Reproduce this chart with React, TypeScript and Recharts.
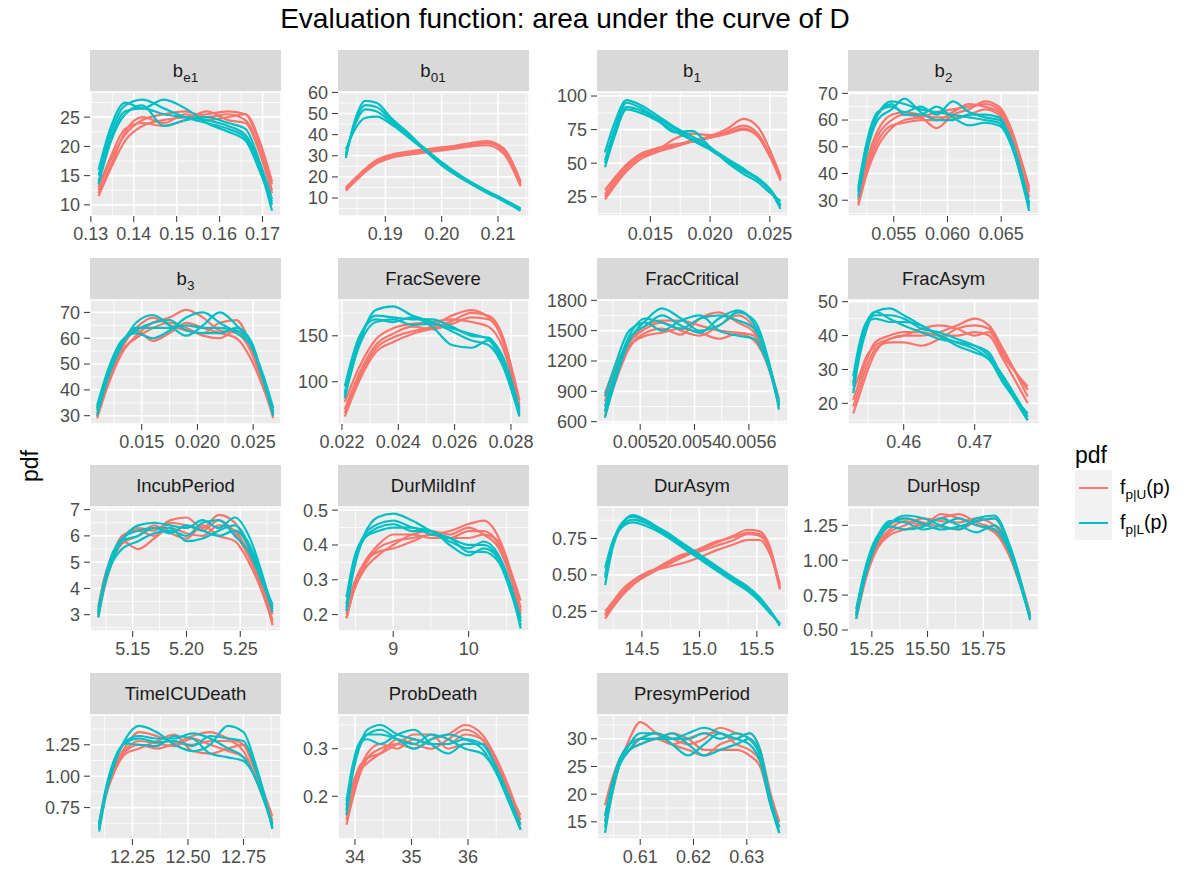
import React from "react";
import { LineChart, Line, XAxis, YAxis, CartesianGrid } from "recharts";

const FONT = "'Liberation Sans', Arial, Helvetica, sans-serif";
const RED = "#F8766D";
const TEAL = "#00BFC4";

// b_e1
const be1X = [0.1318, 0.1345, 0.138, 0.142, 0.147, 0.152, 0.157, 0.162, 0.166, 0.1695, 0.1722];
const be1U = [
  [11.5, 16, 21, 23.5, 24.5, 25, 25.5, 26, 25.5, 20, 13.5],
  [12.5, 17.5, 22, 24.5, 25.5, 26, 25, 25.5, 24.5, 19, 12.5],
  [13, 18, 23, 24, 23.5, 24.5, 26, 24.5, 24, 18.5, 12],
  [12, 16.5, 22.5, 25, 24, 25.5, 24.5, 25, 25.5, 20.5, 14],
];
const be1L = [
  [15, 22, 27, 28, 26.5, 25, 24, 23, 21.5, 16, 9],
  [14, 21, 26, 26.5, 25.5, 25, 24.5, 23.5, 22, 16.5, 10],
  [16, 23, 27.5, 26.5, 28, 26.5, 24, 22.5, 21, 15.5, 10.5],
  [13.5, 20.5, 25.5, 27, 23.5, 24.5, 25, 24, 23, 17, 11],
];
const be1XT = ["0.13", "0.14", "0.15", "0.16", "0.17"];
const be1YT = ["10", "15", "20", "25"];

// b_01
const b01X = [0.183, 0.1845, 0.1865, 0.1885, 0.191, 0.194, 0.197, 0.2, 0.204, 0.208, 0.211, 0.214];
const b01U = [
  [14, 18, 23, 27, 29.5, 31, 32, 33, 34.5, 36, 33, 17],
  [15, 19, 24, 28, 30.5, 32, 33, 34, 35, 36.5, 32, 16],
  [13.5, 17.5, 22.5, 26.5, 29, 30.5, 31.5, 32.5, 34, 35, 31, 15.5],
  [14.5, 18.5, 23.5, 27.5, 30, 31.5, 32.5, 33.5, 35.5, 37, 33.5, 18],
];
const b01L = [
  [29, 46, 56, 55, 48, 41, 33, 26, 19, 13, 9, 4.5],
  [31, 44, 52, 51, 46, 40, 33.5, 27, 19.5, 13.5, 9.5, 5],
  [33, 42, 48, 48.5, 45, 39, 32.5, 25.5, 18.5, 12.5, 8.5, 4],
  [30, 45, 54, 53, 47, 40.5, 33, 26.5, 19, 13, 9, 5],
];
const b01XT = ["0.19", "0.20", "0.21"];
const b01YT = ["10", "20", "30", "40", "50", "60"];

// b_1
const b1X = [0.0112, 0.012, 0.013, 0.014, 0.0155, 0.017, 0.0185, 0.02, 0.0215, 0.0228, 0.024, 0.025, 0.0259];
const b1U = [
  [23, 33, 44, 52, 58, 62, 66, 69, 74, 78, 72, 56, 37],
  [27, 37, 48, 55, 60, 63, 67, 70, 76, 83, 77, 60, 40],
  [25, 35, 46, 54, 59, 68, 72, 71, 73, 76, 70, 55, 38],
  [30, 39, 49, 56, 61, 64, 66, 69, 72, 75, 70, 56, 39],
];
const b1L = [
  [47, 70, 90, 88, 82, 74, 67, 60, 51, 44, 38, 30, 16],
  [52, 75, 95, 92, 84, 76, 68, 61, 52, 45, 39, 31, 19],
  [58, 80, 97, 94, 86, 77, 70, 62, 50, 42, 36, 28, 22],
  [50, 72, 92, 90, 83, 73, 74, 62, 53, 46, 38, 30, 18],
];
const b1XT = ["0.015", "0.020", "0.025"];
const b1YT = ["25", "50", "75", "100"];

// b_2
const b2X = [0.0517, 0.0525, 0.0535, 0.0548, 0.056, 0.0575, 0.059, 0.0605, 0.062, 0.0635, 0.0648, 0.066, 0.0676];
const b2U = [
  [28, 40, 50, 57, 60, 61, 63, 64, 65, 66, 64, 55, 35],
  [30, 43, 54, 60, 62, 61, 57, 62, 64, 67, 65, 56, 33],
  [32, 45, 56, 62, 63, 62, 61, 61, 62, 64, 62, 53, 31],
  [29, 41, 52, 58, 59, 60, 60, 63, 66, 65, 63, 54, 34],
];
const b2L = [
  [33, 50, 62, 67, 66, 64, 63, 62, 61, 60, 59, 50, 27],
  [35, 52, 63, 65, 63, 65, 62, 67, 63, 61, 60, 52, 29],
  [31, 48, 60, 64, 68, 63, 60, 60, 62, 62, 61, 51, 28],
  [34, 51, 62, 66, 62, 62, 65, 61, 58, 59, 58, 50, 26],
];
const b2XT = ["0.055", "0.060", "0.065"];
const b2YT = ["30", "40", "50", "60", "70"];

// b_3
const b3X = [0.011, 0.012, 0.0132, 0.0145, 0.016, 0.0175, 0.019, 0.0205, 0.022, 0.0235, 0.0248, 0.0258, 0.0268];
const b3U = [
  [29, 42, 54, 61, 66, 68, 71, 68, 63, 62, 55, 44, 29],
  [31, 44, 56, 63, 59, 62, 66, 64, 62, 60, 52, 42, 30],
  [33, 46, 57, 64, 68, 65, 63, 62, 66, 67, 57, 45, 31],
  [30, 43, 55, 60, 64, 66, 64, 61, 60, 63, 55, 43, 30],
];
const b3L = [
  [30, 45, 57, 66, 69, 65, 61, 65, 70, 65, 58, 46, 32],
  [32, 47, 58, 64, 64, 64, 65, 64, 64, 63, 58, 45, 31],
  [34, 48, 59, 62, 60, 63, 68, 70, 66, 62, 57, 47, 33],
  [33, 46, 58, 63, 66, 67, 63, 62, 62, 64, 59, 46, 30],
];
const b3XT = ["0.015", "0.020", "0.025"];
const b3YT = ["30", "40", "50", "60", "70"];

// FracSevere
const sevX = [0.0221, 0.0226, 0.0232, 0.0238, 0.0245, 0.0252, 0.0259, 0.0266, 0.0272, 0.0277, 0.0283];
const sevU = [
  [62, 100, 132, 143, 152, 158, 166, 175, 172, 150, 75],
  [70, 108, 140, 152, 160, 157, 163, 170, 168, 145, 68],
  [78, 115, 146, 158, 163, 165, 168, 165, 160, 138, 72],
  [66, 104, 136, 148, 155, 160, 172, 178, 170, 148, 80],
];
const sevL = [
  [82, 140, 178, 182, 172, 165, 155, 145, 140, 118, 62],
  [88, 145, 172, 170, 168, 168, 160, 150, 148, 125, 66],
  [95, 148, 168, 165, 170, 160, 140, 137, 145, 128, 70],
  [85, 138, 165, 168, 162, 163, 158, 152, 146, 120, 64],
];
const sevXT = ["0.022", "0.024", "0.026", "0.028"];
const sevYT = ["100", "150"];

// FracCritical
const critX = [0.00507, 0.00511, 0.00516, 0.00522, 0.00528, 0.00535, 0.00542, 0.00549, 0.00556, 0.00562, 0.00567, 0.005711];
const critU = [
  [700, 1050, 1350, 1450, 1480, 1520, 1480, 1420, 1470, 1400, 1150, 780],
  [800, 1120, 1380, 1520, 1580, 1500, 1450, 1550, 1650, 1520, 1200, 820],
  [880, 1150, 1400, 1550, 1600, 1600, 1550, 1500, 1480, 1450, 1180, 750],
  [650, 1000, 1330, 1480, 1520, 1460, 1620, 1680, 1580, 1480, 1170, 800],
];
const critL = [
  [640, 1020, 1400, 1600, 1720, 1620, 1500, 1550, 1680, 1600, 1230, 720],
  [750, 1100, 1450, 1620, 1580, 1520, 1620, 1650, 1600, 1520, 1200, 800],
  [850, 1180, 1500, 1580, 1500, 1600, 1650, 1500, 1450, 1420, 1160, 760],
  [700, 1080, 1420, 1550, 1650, 1550, 1480, 1620, 1700, 1560, 1210, 780],
];
const critXT = ["0.0052", "0.0054", "0.0056"];
const critYT = ["600", "900", "1200", "1500", "1800"];

// FracAsym
const asymX = [0.4529, 0.4537, 0.4548, 0.456, 0.458, 0.46, 0.4625, 0.465, 0.4675, 0.47, 0.472, 0.474, 0.47746];
const asymU = [
  [17, 22, 29, 35, 39, 40, 40, 41, 43, 45, 43, 36, 22],
  [19, 24, 31, 36, 38, 38, 37, 39, 42, 43, 42, 35, 24],
  [21, 26, 33, 38, 40, 41, 41, 40, 40, 41, 40, 33, 20],
  [24, 28, 34, 37, 39, 40, 42, 43, 42, 40, 41, 34, 25],
];
const asymL = [
  [23, 33, 42, 47, 48, 46, 43, 40, 38, 36, 33, 27, 15],
  [25, 35, 43, 46, 46, 45, 42, 41, 39, 37, 34, 28, 16],
  [28, 37, 44, 45, 44, 44, 43, 40, 37, 35, 33, 26, 17],
  [26, 36, 44, 47, 45, 43, 41, 39, 38, 37, 35, 27, 15],
];
const asymXT = ["0.46", "0.47"];
const asymYT = ["20", "30", "40", "50"];

// IncubPeriod
const incX = [5.118, 5.123, 5.13, 5.14, 5.155, 5.17, 5.185, 5.2, 5.215, 5.23, 5.245, 5.258, 5.27, 5.28];
const incU = [
  [3.0, 4.0, 5.0, 5.9, 6.3, 6.2, 6.6, 6.7, 6.3, 6.8, 6.5, 5.5, 4.2, 2.6],
  [3.3, 4.3, 5.2, 5.8, 5.5, 5.9, 6.3, 6.1, 6.0, 6.4, 6.2, 5.3, 4.0, 2.8],
  [2.9, 3.9, 4.9, 5.7, 6.0, 6.4, 6.1, 5.9, 6.4, 6.0, 5.8, 5.0, 3.9, 2.7],
  [3.1, 4.1, 5.1, 6.0, 6.2, 6.0, 6.5, 6.4, 6.2, 6.6, 6.1, 5.2, 4.1, 3.0],
];
const incL = [
  [2.9, 4.0, 5.0, 5.8, 6.4, 6.5, 6.4, 6.3, 6.6, 6.3, 6.7, 6.0, 4.6, 3.1],
  [3.2, 4.2, 5.2, 5.9, 6.2, 6.3, 6.1, 6.4, 6.2, 6.0, 6.2, 5.6, 4.3, 3.4],
  [3.0, 4.0, 4.9, 5.5, 5.8, 6.1, 6.2, 6.0, 6.5, 6.6, 6.0, 5.4, 4.3, 3.2],
  [3.1, 4.1, 5.1, 5.8, 6.0, 6.3, 6.3, 5.8, 5.9, 6.2, 6.4, 5.7, 4.5, 3.3],
];
const incXT = ["5.15", "5.20", "5.25"];
const incYT = ["3", "4", "5", "6", "7"];

// DurMildInf
const mildX = [8.38, 8.48, 8.62, 8.8, 9.0, 9.25, 9.5, 9.75, 10.0, 10.2, 10.4, 10.55, 10.69];
const mildU = [
  [0.19, 0.27, 0.34, 0.39, 0.41, 0.42, 0.43, 0.44, 0.46, 0.47, 0.42, 0.33, 0.21],
  [0.2, 0.28, 0.35, 0.4, 0.43, 0.43, 0.42, 0.42, 0.44, 0.44, 0.4, 0.32, 0.22],
  [0.21, 0.29, 0.35, 0.38, 0.39, 0.41, 0.43, 0.42, 0.42, 0.43, 0.41, 0.33, 0.24],
  [0.19, 0.27, 0.33, 0.37, 0.4, 0.43, 0.44, 0.43, 0.45, 0.43, 0.39, 0.31, 0.2],
];
const mildL = [
  [0.21, 0.33, 0.43, 0.48, 0.49, 0.47, 0.44, 0.42, 0.4, 0.4, 0.36, 0.28, 0.16],
  [0.23, 0.35, 0.43, 0.46, 0.47, 0.45, 0.44, 0.41, 0.39, 0.41, 0.37, 0.29, 0.18],
  [0.25, 0.36, 0.42, 0.44, 0.45, 0.45, 0.43, 0.42, 0.38, 0.38, 0.35, 0.27, 0.17],
  [0.22, 0.34, 0.42, 0.45, 0.46, 0.44, 0.44, 0.4, 0.37, 0.39, 0.36, 0.28, 0.19],
];
const mildXT = ["9", "10"];
const mildYT = ["0.2", "0.3", "0.4", "0.5"];

// DurAsym
const dasX = [14.18, 14.25, 14.33, 14.42, 14.55, 14.7, 14.85, 15.0, 15.15, 15.3, 15.42, 15.52, 15.61, 15.7];
const dasU = [
  [0.2, 0.28, 0.36, 0.43, 0.5, 0.56, 0.62, 0.67, 0.72, 0.77, 0.81, 0.8, 0.7, 0.42],
  [0.23, 0.3, 0.38, 0.45, 0.51, 0.58, 0.64, 0.66, 0.7, 0.74, 0.78, 0.77, 0.67, 0.4],
  [0.25, 0.32, 0.4, 0.46, 0.52, 0.55, 0.58, 0.62, 0.67, 0.71, 0.74, 0.74, 0.65, 0.44],
  [0.22, 0.29, 0.37, 0.44, 0.5, 0.57, 0.63, 0.68, 0.73, 0.76, 0.79, 0.78, 0.68, 0.41],
];
const dasL = [
  [0.43, 0.7, 0.85, 0.91, 0.87, 0.79, 0.71, 0.63, 0.55, 0.47, 0.41, 0.34, 0.26, 0.15],
  [0.48, 0.72, 0.84, 0.88, 0.85, 0.78, 0.7, 0.62, 0.54, 0.46, 0.4, 0.33, 0.25, 0.16],
  [0.55, 0.74, 0.83, 0.86, 0.83, 0.77, 0.69, 0.61, 0.53, 0.45, 0.39, 0.32, 0.24, 0.17],
  [0.5, 0.73, 0.86, 0.9, 0.86, 0.8, 0.72, 0.64, 0.56, 0.48, 0.42, 0.35, 0.26, 0.16],
];
const dasXT = ["14.5", "15.0", "15.5"];
const dasYT = ["0.25", "0.50", "0.75"];

// DurHosp
const hospX = [15.18, 15.22, 15.27, 15.33, 15.4, 15.48, 15.56, 15.64, 15.72, 15.8, 15.87, 15.92, 15.96];
const hospU = [
  [0.58, 0.85, 1.08, 1.2, 1.25, 1.3, 1.28, 1.27, 1.3, 1.25, 1.05, 0.82, 0.58],
  [0.62, 0.88, 1.1, 1.22, 1.28, 1.25, 1.33, 1.3, 1.25, 1.2, 1.02, 0.8, 0.6],
  [0.65, 0.9, 1.12, 1.25, 1.3, 1.27, 1.24, 1.22, 1.28, 1.3, 1.08, 0.84, 0.62],
  [0.6, 0.86, 1.07, 1.18, 1.22, 1.26, 1.3, 1.33, 1.27, 1.22, 1.03, 0.81, 0.59],
];
const hospL = [
  [0.58, 0.88, 1.12, 1.26, 1.32, 1.3, 1.25, 1.22, 1.3, 1.32, 1.1, 0.84, 0.57],
  [0.62, 0.92, 1.15, 1.28, 1.27, 1.22, 1.25, 1.3, 1.25, 1.22, 1.05, 0.8, 0.58],
  [0.65, 0.94, 1.16, 1.24, 1.22, 1.24, 1.3, 1.25, 1.2, 1.25, 1.07, 0.83, 0.6],
  [0.6, 0.9, 1.13, 1.27, 1.3, 1.26, 1.22, 1.24, 1.28, 1.3, 1.09, 0.82, 0.59],
];
const hospXT = ["15.25", "15.50", "15.75"];
const hospYT = ["0.50", "0.75", "1.00", "1.25"];

// TimeICUDeath
const icuX = [12.1, 12.13, 12.17, 12.22, 12.28, 12.36, 12.44, 12.52, 12.6, 12.68, 12.75, 12.8, 12.84, 12.88];
const icuU = [
  [0.6, 0.85, 1.05, 1.2, 1.25, 1.22, 1.26, 1.32, 1.35, 1.3, 1.25, 1.05, 0.85, 0.62],
  [0.63, 0.88, 1.08, 1.24, 1.35, 1.32, 1.27, 1.25, 1.28, 1.28, 1.2, 1.0, 0.82, 0.65],
  [0.58, 0.84, 1.04, 1.18, 1.22, 1.28, 1.33, 1.2, 1.18, 1.22, 1.25, 1.08, 0.88, 0.68],
  [0.61, 0.86, 1.06, 1.21, 1.28, 1.26, 1.24, 1.3, 1.25, 1.2, 1.15, 1.0, 0.83, 0.63],
];
const icuL = [
  [0.56, 0.85, 1.1, 1.3, 1.4, 1.35, 1.25, 1.2, 1.25, 1.4, 1.35, 1.12, 0.88, 0.58],
  [0.6, 0.88, 1.12, 1.28, 1.32, 1.3, 1.3, 1.34, 1.3, 1.22, 1.15, 1.0, 0.82, 0.6],
  [0.62, 0.9, 1.14, 1.26, 1.25, 1.24, 1.32, 1.3, 1.18, 1.15, 1.12, 1.0, 0.83, 0.62],
  [0.58, 0.87, 1.11, 1.27, 1.3, 1.27, 1.28, 1.24, 1.32, 1.3, 1.28, 1.08, 0.86, 0.59],
];
const icuXT = ["12.25", "12.50", "12.75"];
const icuYT = ["0.75", "1.00", "1.25"];

// ProbDeath
const pdX = [33.85, 33.95, 34.07, 34.22, 34.45, 34.75, 35.05, 35.35, 35.65, 35.95, 36.25, 36.5, 36.72, 36.93];
const pdU = [
  [0.14, 0.19, 0.24, 0.28, 0.3, 0.31, 0.3, 0.32, 0.33, 0.35, 0.33, 0.28, 0.22, 0.15],
  [0.15, 0.2, 0.25, 0.29, 0.31, 0.3, 0.32, 0.31, 0.31, 0.33, 0.32, 0.27, 0.21, 0.16],
  [0.17, 0.22, 0.26, 0.28, 0.29, 0.31, 0.33, 0.33, 0.3, 0.31, 0.31, 0.26, 0.2, 0.15],
  [0.16, 0.21, 0.25, 0.27, 0.29, 0.32, 0.31, 0.3, 0.32, 0.34, 0.32, 0.27, 0.21, 0.14],
];
const pdL = [
  [0.16, 0.24, 0.3, 0.34, 0.35, 0.33, 0.32, 0.31, 0.31, 0.32, 0.31, 0.26, 0.2, 0.13],
  [0.18, 0.25, 0.31, 0.33, 0.33, 0.32, 0.31, 0.33, 0.32, 0.3, 0.29, 0.25, 0.19, 0.13],
  [0.19, 0.26, 0.31, 0.32, 0.31, 0.33, 0.34, 0.31, 0.29, 0.31, 0.31, 0.26, 0.2, 0.14],
  [0.17, 0.25, 0.3, 0.33, 0.34, 0.32, 0.3, 0.32, 0.33, 0.32, 0.3, 0.25, 0.19, 0.13],
];
const pdXT = ["34", "35", "36"];
const pdYT = ["0.2", "0.3"];

// PresymPeriod
const preX = [0.6034, 0.6045, 0.606, 0.608, 0.61, 0.613, 0.616, 0.619, 0.622, 0.625, 0.628, 0.6305, 0.6325, 0.6345, 0.6361];
const preU = [
  [14, 19, 25, 30, 33, 31, 29, 28, 27, 29, 30, 31, 28, 20, 15],
  [16, 21, 26, 29, 30, 30, 29, 30, 31, 31, 29, 28, 26, 19, 14],
  [18, 22, 26, 28, 29, 30, 31, 30, 28, 28, 28, 27, 25, 18, 14],
  [15, 20, 25, 28, 30, 31, 30, 29, 30, 32, 31, 30, 27, 19, 15],
];
const preL = [
  [13, 19, 25, 29, 31, 31, 29, 27, 29, 31, 30, 31, 28, 19, 13],
  [15, 20, 25, 28, 30, 30, 31, 29, 27, 28, 29, 30, 27, 18, 13],
  [16, 21, 26, 29, 30, 31, 30, 31, 32, 31, 30, 29, 26, 18, 14],
  [14, 20, 25, 28, 29, 30, 30, 30, 31, 30, 31, 30, 27, 19, 14],
];
const preXT = ["0.61", "0.62", "0.63"];
const preYT = ["15", "20", "25", "30"];

// layout
const COL_X = [90, 337.5, 596.5, 848];
const ROW_Y = [50, 257.5, 465, 673];
const PW = 191;
const SH = 42;
const PH = 124;
const YW = 70;
const XH = 36;
const PAD_T = 14;
const PAD_R = 30;

const Sub = ({ children }: { children: React.ReactNode }) => (
  <span style={{ fontSize: 13.5, position: "relative", top: 5 }}>{children}</span>
);

type PanelDef = {
  name: React.ReactNode;
  x: number[];
  u: number[][];
  l: number[][];
  xd: [number, number];
  yd: [number, number];
  xt: string[];
  yt: string[];
};

const panels: PanelDef[] = [
  { name: <>b<Sub>e1</Sub></>, x: be1X, u: be1U, l: be1L, xd: [0.1298, 0.1743], yd: [8.1, 29.3], xt: be1XT, yt: be1YT },
  { name: <>b<Sub>01</Sub></>, x: b01X, u: b01U, l: b01L, xd: [0.1816, 0.2155], yd: [1.5, 60.2], xt: b01XT, yt: b01YT },
  { name: <>b<Sub>1</Sub></>, x: b1X, u: b1U, l: b1L, xd: [0.01053, 0.02652], yd: [10.7, 103], xt: b1XT, yt: b1YT },
  { name: <>b<Sub>2</Sub></>, x: b2X, u: b2U, l: b2L, xd: [0.05074, 0.06852], yd: [24.1, 70.5], xt: b2XT, yt: b2YT },
  { name: <>b<Sub>3</Sub></>, x: b3X, u: b3U, l: b3L, xd: [0.01036, 0.0275], yd: [26.8, 74.8], xt: b3XT, yt: b3YT },
  { name: "FracSevere", x: sevX, u: sevU, l: sevL, xd: [0.02186, 0.02864], yd: [54, 189], xt: sevXT, yt: sevYT },
  { name: "FracCritical", x: critX, u: critU, l: critL, xd: [0.005041, 0.005744], yd: [577, 1803], xt: critXT, yt: critYT },
  { name: "FracAsym", x: asymX, u: asymU, l: asymL, xd: [0.45216, 0.47905], yd: [13.9, 50.5], xt: asymXT, yt: asymYT },
  { name: "IncubPeriod", x: incX, u: incU, l: incL, xd: [5.1103, 5.2879], yd: [2.38, 7.1], xt: incXT, yt: incYT },
  { name: "DurMildInf", x: mildX, u: mildU, l: mildL, xd: [8.268, 10.8], yd: [0.153, 0.509], xt: mildXT, yt: mildYT },
  { name: "DurAsym", x: dasX, u: dasU, l: dasL, xd: [14.109, 15.771], yd: [0.115, 0.966], xt: dasXT, yt: dasYT },
  { name: "DurHosp", x: hospX, u: hospU, l: hospL, xd: [15.143, 16.0], yd: [0.493, 1.381], xt: hospXT, yt: hospYT },
  { name: "TimeICUDeath", x: icuX, u: icuU, l: icuL, xd: [12.059, 12.919], yd: [0.5, 1.487], xt: icuXT, yt: icuYT },
  { name: "ProbDeath", x: pdX, u: pdU, l: pdL, xd: [33.7, 37.08], yd: [0.11, 0.371], xt: pdXT, yt: pdYT },
  { name: "PresymPeriod", x: preX, u: preU, l: preL, xd: [0.60189, 0.63774], yd: [11.9, 34.3], xt: preXT, yt: preYT },
];

// minor breaks halfway between major ones, kept inside the panel limits
function minors(ticks: number[], d: [number, number]) {
  const step = ticks.length > 1 ? ticks[1] - ticks[0] : 0;
  const out: number[] = [];
  for (let i = -1; i < ticks.length; i++) {
    const m = ticks[0] + step * (i + 0.5);
    if (m > d[0] && m < d[1]) out.push(m);
  }
  return out;
}

const tickStyle = { fill: "#4D4D4D", fontSize: 18, fontFamily: FONT };

function Panel({ p, idx }: { p: PanelDef; idx: number }) {
  const left = COL_X[idx % 4];
  const top = ROW_Y[Math.floor(idx / 4)];
  const rows = p.x.map((xv, i) => {
    const r: Record<string, number> = { x: xv };
    p.u.forEach((c, k) => (r["u" + k] = c[i]));
    p.l.forEach((c, k) => (r["l" + k] = c[i]));
    return r;
  });
  const xt = p.xt.map(Number);
  const yt = p.yt.map(Number);
  return (
    <>
      <div
        style={{
          position: "absolute", left, top, width: PW, height: SH, background: "#D9D9D9",
          display: "flex", alignItems: "center", justifyContent: "center",
          fontSize: 18.5, color: "#1A1A1A", fontFamily: FONT,
        }}
      >
        <span>{p.name}</span>
      </div>
      <div style={{ position: "absolute", left: left - YW, top: top + SH - PAD_T }}>
        <LineChart
          width={YW + PW + PAD_R}
          height={PH + XH + PAD_T}
          data={rows}
          margin={{ top: PAD_T, right: PAD_R, bottom: 0, left: 0 }}
        >
          <CartesianGrid
            fill="#EBEBEB"
            stroke="#FFFFFF"
            strokeWidth={0.8}
            horizontalValues={minors(yt, p.yd)}
            verticalValues={minors(xt, p.xd)}
          />
          <CartesianGrid stroke="#FFFFFF" strokeWidth={1.6} />
          <XAxis
            type="number"
            dataKey="x"
            domain={p.xd}
            ticks={xt}
            interval={0}
            allowDataOverflow
            height={XH}
            axisLine={false}
            tickLine={{ stroke: "#333333" }}
            tickSize={6}
            tickMargin={5}
            tick={tickStyle}
            tickFormatter={(v: number) => p.xt[xt.indexOf(v)] ?? String(v)}
          />
          <YAxis
            type="number"
            domain={p.yd}
            ticks={yt}
            interval={0}
            allowDataOverflow
            width={YW}
            axisLine={false}
            tickLine={{ stroke: "#333333" }}
            tickSize={6}
            tickMargin={4}
            tick={tickStyle}
            tickFormatter={(v: number) => p.yt[yt.indexOf(v)] ?? String(v)}
          />
          {p.u.map((_, k) => (
            <Line key={"u" + k} dataKey={"u" + k} type="monotone" stroke={RED} strokeWidth={2.2} dot={false} activeDot={false} isAnimationActive={false} />
          ))}
          {p.l.map((_, k) => (
            <Line key={"l" + k} dataKey={"l" + k} type="monotone" stroke={TEAL} strokeWidth={2.2} dot={false} activeDot={false} isAnimationActive={false} />
          ))}
        </LineChart>
      </div>
    </>
  );
}

function LegendLabel({ sub }: { sub: string }) {
  return (
    <span>
      f<span style={{ fontSize: 13.5, position: "relative", top: 5 }}>{sub}</span>(p)
    </span>
  );
}

export default function App() {
  return (
    <div style={{ position: "absolute", left: 0, top: 0, width: 1194, height: 869, background: "#FFFFFF", fontFamily: FONT, overflow: "hidden" }}>
      <div style={{ position: "absolute", left: 0, top: 5, width: 1130, textAlign: "center", fontSize: 28, lineHeight: "28px", color: "#000" }}>
        Evaluation function: area under the curve of D
      </div>
      <div
        style={{
          position: "absolute", left: 30, top: 466, transform: "translate(-50%, -50%) rotate(-90deg)",
          fontSize: 23, color: "#000", whiteSpace: "nowrap",
        }}
      >
        pdf
      </div>
      {panels.map((p, i) => (
        <Panel key={i} p={p} idx={i} />
      ))}
      {/* legend */}
      <div style={{ position: "absolute", left: 1075, top: 441, fontSize: 23, lineHeight: "28px", color: "#000" }}>pdf</div>
      <div style={{ position: "absolute", left: 1075, top: 470, width: 37, height: 70, background: "#F2F2F2" }} />
      <div style={{ position: "absolute", left: 1079, top: 487, width: 29, height: 2, background: RED }} />
      <div style={{ position: "absolute", left: 1079, top: 522, width: 29, height: 2, background: TEAL }} />
      <div style={{ position: "absolute", left: 1120, top: 475, fontSize: 19.5, lineHeight: "24px", color: "#000" }}>
        <LegendLabel sub="p|U" />
      </div>
      <div style={{ position: "absolute", left: 1120, top: 510, fontSize: 19.5, lineHeight: "24px", color: "#000" }}>
        <LegendLabel sub="p|L" />
      </div>
    </div>
  );
}
